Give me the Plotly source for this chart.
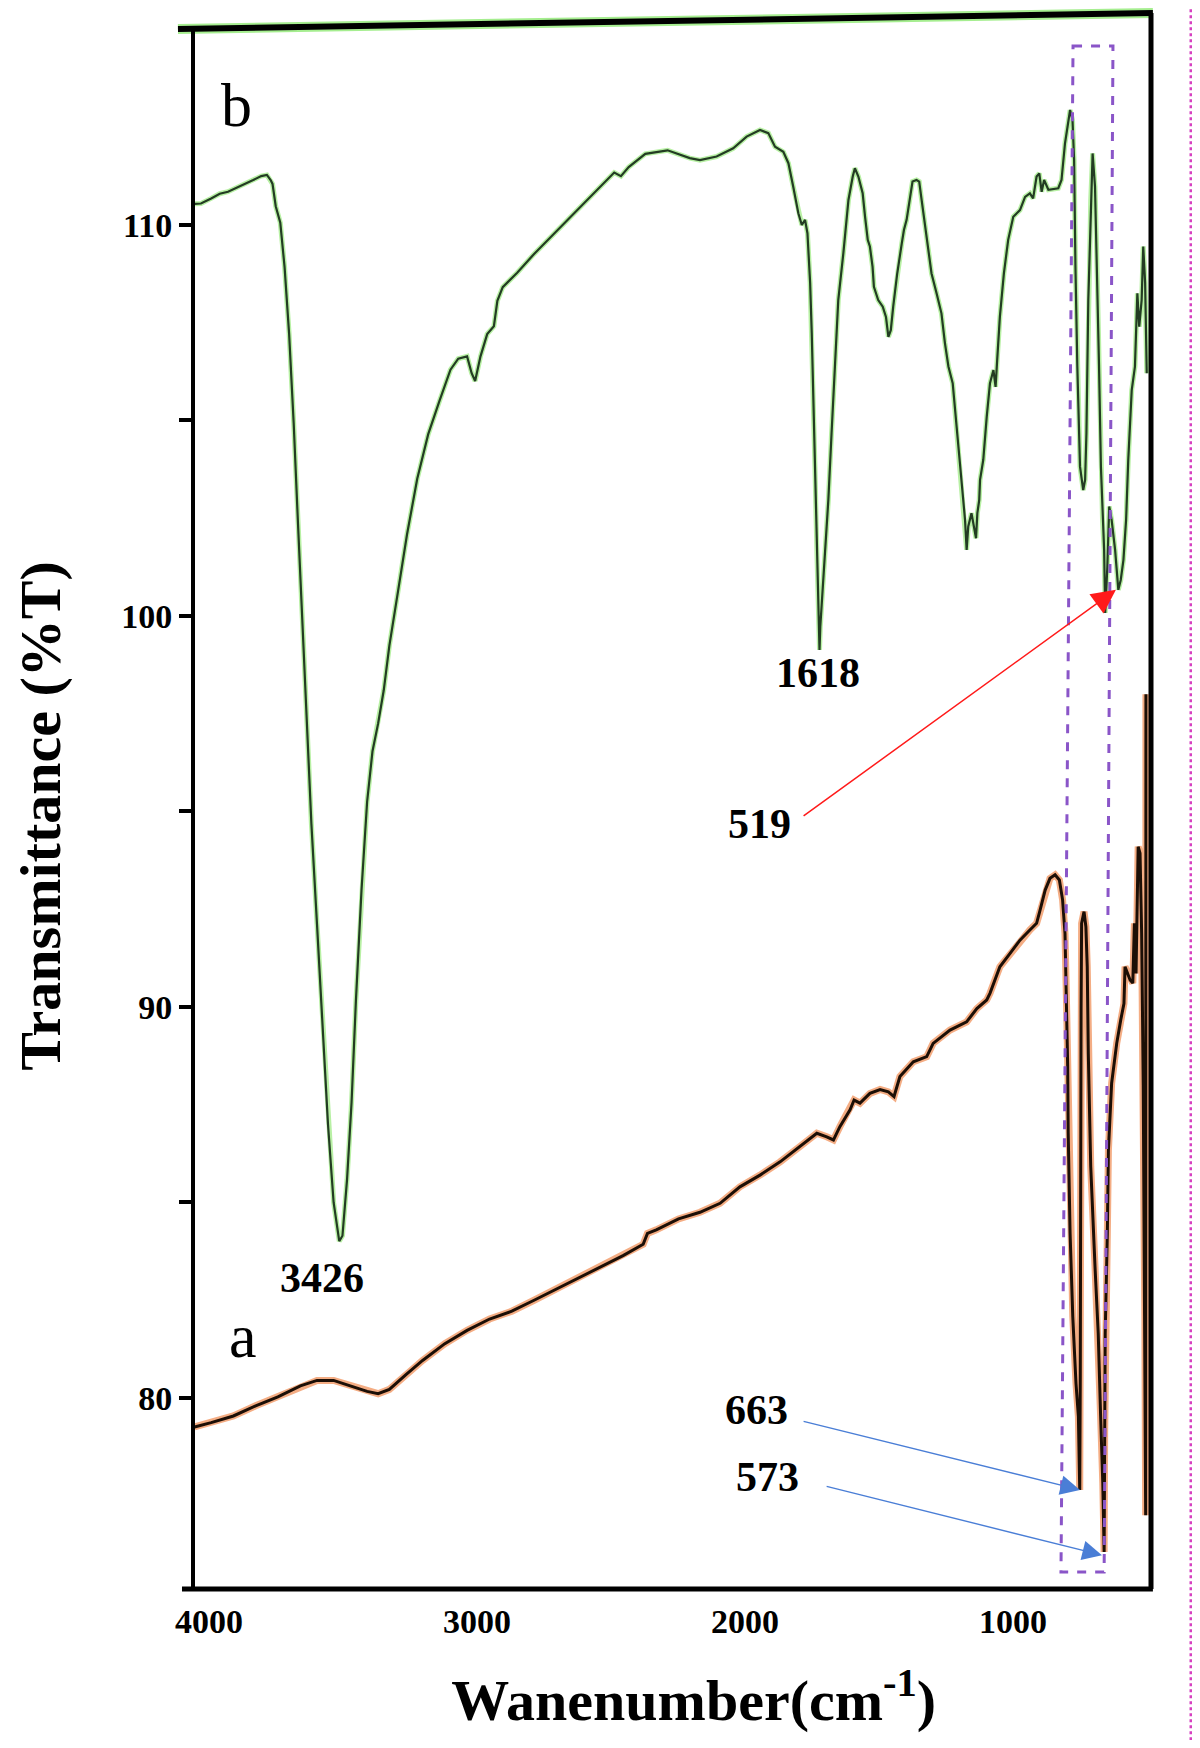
import plotly.graph_objects as go

# ---------------- data ----------------
wn_b = [4054, 4030, 3992, 3960, 3929, 3900, 3867, 3835, 3805, 3784, 3770, 3763, 3751, 3734, 3718,
        3701, 3684, 3668, 3651, 3635, 3618, 3597, 3576, 3556, 3535, 3514, 3502, 3485, 3468, 3452,
        3431, 3410, 3390, 3369, 3348, 3327, 3294, 3261, 3223, 3182, 3140, 3099, 3070, 3037, 3020,
        3007, 2987, 2962, 2937, 2924, 2904, 2850, 2787, 2704, 2621, 2538, 2488, 2463, 2434, 2372,
        2289, 2206, 2168, 2106, 2044, 1994, 1944, 1913, 1888, 1857, 1838, 1820, 1801, 1788, 1776,
        1767, 1757, 1751, 1745, 1739, 1732, 1726, 1722, 1719, 1708, 1698, 1689, 1677, 1664, 1652,
        1633, 1614, 1598, 1590, 1577, 1561, 1552, 1542, 1534, 1524, 1519, 1503, 1486, 1474, 1465,
        1456, 1447, 1432, 1415, 1407, 1397, 1382, 1375, 1360, 1350, 1341, 1325, 1304, 1285, 1267,
        1254, 1241, 1225, 1216, 1204, 1191, 1179, 1173, 1167, 1155, 1146, 1138, 1133, 1126, 1123,
        1111, 1098, 1086, 1073, 1065, 1059, 1049, 1034, 1018, 999, 974, 955, 937, 925, 912,
        902, 893, 884, 868, 831, 819, 806, 787, 778, 772, 767, 760, 750, 738, 731,
        726, 719, 710, 703, 694, 688, 679, 672, 666, 660, 656, 648, 641, 632, 619,
        607, 598, 588, 578, 570, 557, 545, 536, 529, 520, 514, 507, 501]
t_b = [110.54, 110.55, 110.68, 110.80, 110.85, 110.95, 111.05, 111.15, 111.25, 111.28, 111.15, 111.05, 110.48, 110.06, 108.92,
       107.21, 104.93, 102.37, 99.81, 97.25, 94.69, 92.12, 89.56, 87.00, 85.00, 84.01, 84.15, 85.58, 87.57, 90.13,
       92.98, 95.25, 96.54, 97.25, 98.10, 99.24, 100.66, 102.09, 103.51, 104.65, 105.50, 106.30, 106.58, 106.64, 106.21,
       106.01, 106.64, 107.21, 107.41, 108.06, 108.41, 108.78, 109.26, 109.83, 110.40, 110.97, 111.34, 111.25, 111.48, 111.82,
       111.91, 111.71, 111.66, 111.75, 111.96, 112.26, 112.43, 112.35, 112.00, 111.87, 111.58, 110.98, 110.30, 110.00, 110.13,
       109.79, 108.52, 107.24, 105.52, 103.81, 101.69, 99.98, 99.13, 99.73, 100.84, 102.12, 102.97, 104.68, 106.38, 108.08,
       109.28, 110.64, 111.24, 111.45, 111.24, 110.81, 110.21, 109.62, 109.45, 108.93, 108.42, 108.08, 107.91, 107.65, 107.14,
       107.31, 107.91, 108.76, 109.53, 109.87, 110.13, 110.81, 111.11, 111.15, 111.11, 110.64, 109.79, 108.76, 108.25, 107.74,
       106.98, 106.38, 105.95, 105.27, 104.25, 103.40, 102.46, 101.69, 102.29, 102.63, 102.29, 101.99, 102.63, 102.97, 103.48,
       103.99, 105.10, 105.95, 106.29, 105.86, 106.55, 107.65, 108.76, 109.62, 110.21, 110.38, 110.72, 110.81, 110.68, 111.24,
       111.32, 110.85, 111.15, 110.90, 110.94, 111.15, 112.09, 112.94, 112.69, 111.66, 108.93, 106.38, 103.82, 103.22, 103.48,
       104.68, 108.08, 110.64, 111.83, 110.98, 109.36, 106.38, 103.82, 102.46, 101.69, 100.08, 101.26, 102.80, 102.46, 101.69,
       100.67, 100.92, 101.43, 102.46, 103.99, 105.78, 106.38, 108.25, 107.40, 108.08, 109.45, 108.52, 106.21]

wn_a = [4054, 3992, 3909, 3826, 3743, 3659, 3597, 3535, 3473, 3410, 3369, 3327, 3265, 3203, 3120,
        3037, 2953, 2870, 2787, 2704, 2621, 2538, 2455, 2380, 2364, 2331, 2248, 2168, 2093, 2019,
        1944, 1869, 1795, 1732, 1695, 1670, 1646, 1608, 1593, 1571, 1534, 1496, 1465, 1444, 1422,
        1372, 1322, 1298, 1235, 1173, 1135, 1098, 1086, 1049, 1011, 974, 937, 912, 899, 880,
        862, 843, 827, 815, 806, 800, 796, 794, 787, 777, 765, 756, 751, 749, 748,
        746, 744, 735, 728, 723, 719, 710, 694, 682, 673, 665, 660, 658, 656, 648,
        644, 632, 613, 598, 586, 582, 573, 563, 553, 547, 541, 533, 526, 520, 514,
        508, 505, 504]
t_a = [79.26, 79.37, 79.54, 79.80, 80.03, 80.31, 80.45, 80.45, 80.31, 80.17, 80.11, 80.22, 80.60, 80.96, 81.39,
       81.73, 82.02, 82.22, 82.50, 82.79, 83.07, 83.36, 83.64, 83.93, 84.21, 84.30, 84.58, 84.75, 84.98, 85.40,
       85.70, 86.04, 86.43, 86.77, 86.68, 86.60, 86.94, 87.37, 87.62, 87.54, 87.79, 87.89, 87.83, 87.71, 88.22,
       88.60, 88.73, 89.07, 89.41, 89.62, 89.96, 90.18, 90.35, 91.03, 91.37, 91.71, 91.97, 92.14, 92.48, 92.99,
       93.29, 93.38, 93.25, 92.74, 91.88, 90.00, 88.50, 86.77, 84.21, 82.08, 80.37, 79.52, 77.65, 80.50, 86.00,
       90.00, 92.14, 92.44, 92.05, 91.03, 88.80, 85.92, 83.36, 81.65, 79.52, 77.82, 76.06, 79.10, 81.65, 84.21,
       86.34, 88.05, 89.07, 89.67, 90.09, 91.03, 90.86, 90.69, 90.61, 92.14, 90.86, 94.10, 93.93, 91.88, 88.00,
       82.00, 77.00, 98.00]

x_ticks = [4000, 3000, 2000, 1000]
x_tick_text = ["4000", "3000", "2000", "1000"]
y_ticks = [80, 90, 100, 110]
y_tick_text = ["80", "90", "100", "110"]
y_minor_ticks = [85, 95, 105]

peak_labels = ["3426", "1618", "519", "663", "573"]
peak_label_wn = [3578, 1727, 1946, 1957, 1916]
peak_label_t = [83.07, 98.54, 94.68, 79.69, 77.98]

X_RANGE = [4059.7, 485.1]
Y_RANGE = [75.115, 115.396]

SERIF = "Liberation Serif, Times New Roman, serif"

fig = go.Figure()

# halos
fig.add_trace(go.Scatter(x=wn_a, y=t_a, mode="lines", line=dict(color="#f4ad84", width=7),
                         hoverinfo="skip", showlegend=False))
fig.add_trace(go.Scatter(x=wn_b, y=t_b, mode="lines", line=dict(color="#b8f0a4", width=5),
                         hoverinfo="skip", showlegend=False))
# curves
fig.add_trace(go.Scatter(x=wn_a, y=t_a, mode="lines", name="a",
                         line=dict(color="#1c0f06", width=3), showlegend=False))
fig.add_trace(go.Scatter(x=wn_b, y=t_b, mode="lines", name="b",
                         line=dict(color="#233c23", width=2.2), showlegend=False))

annotations = []
for txt, xv, yv in zip(peak_labels, peak_label_wn, peak_label_t):
    annotations.append(dict(x=xv, y=yv, xref="x", yref="y", text=txt, showarrow=False,
                            font=dict(family=SERIF, size=42, color="black", weight="bold")))
annotations.append(dict(x=3899, y=113.07, xref="x", yref="y", text="b", showarrow=False,
                        font=dict(family=SERIF, size=62, color="black")))
annotations.append(dict(x=3873, y=81.59, xref="x", yref="y", text="a", showarrow=False,
                        font=dict(family=SERIF, size=62, color="black")))
# arrows
annotations.append(dict(x=616, y=100.67, ax=1787, ay=94.86, xref="x", yref="y", axref="x", ayref="y",
                        text="", showarrow=True, arrowhead=2, arrowsize=3.2, arrowwidth=1.5,
                        arrowcolor="#ff1a1a", standoff=0))
annotations.append(dict(x=750, y=77.65, ax=1787, ay=79.41, xref="x", yref="y", axref="x", ayref="y",
                        text="", showarrow=True, arrowhead=2, arrowsize=2.8, arrowwidth=1.4,
                        arrowcolor="#4a7ed6", standoff=0))
annotations.append(dict(x=668, y=75.98, ax=1701, ay=77.75, xref="x", yref="y", axref="x", ayref="y",
                        text="", showarrow=True, arrowhead=2, arrowsize=2.8, arrowwidth=1.4,
                        arrowcolor="#4a7ed6", standoff=0))

shapes = [
    # dashed highlight box
    dict(type="path", xref="x", yref="y",
         path="M 776,114.58 L 627,114.58 L 660,75.55 L 821,75.55 Z",
         line=dict(color="#8a55c8", width=3, dash="dash")),
    # frame: top (slanted) with green halo
    dict(type="line", xref="paper", yref="paper", x0=-0.0157, y0=0.9905, x1=1.002, y1=1.0006,
         line=dict(color="#a6ee90", width=10)),
    dict(type="line", xref="paper", yref="paper", x0=-0.0157, y0=0.9905, x1=1.002, y1=1.0006,
         line=dict(color="black", width=6)),
    # left
    dict(type="line", xref="paper", yref="paper", x0=0, y0=0, x1=0, y1=0.9905,
         line=dict(color="black", width=4)),
    # right
    dict(type="line", xref="paper", yref="paper", x0=1.0, y0=0, x1=1.0, y1=1.0006,
         line=dict(color="black", width=5)),
    # bottom
    dict(type="line", xref="paper", yref="paper", x0=-0.0115, y0=0, x1=1.002, y1=0,
         line=dict(color="black", width=5)),
    # pink dotted line at right edge
    dict(type="line", xref="paper", yref="paper", x0=1.0415, y0=-0.096, x1=1.0415, y1=1.004,
         line=dict(color="#d63fc0", width=2.5, dash="dot")),
]

# The page body has an 8px margin, so the figure is sized/margined to land on the
# reference pixel positions without creating scrollbars.
fig.update_layout(
    width=1184, height=1732,
    margin=dict(l=185, r=41, t=6, b=151, autoexpand=False),
    paper_bgcolor="white", plot_bgcolor="white",
    annotations=annotations, shapes=shapes,
    xaxis=dict(range=X_RANGE, tickvals=x_ticks, ticktext=x_tick_text, ticks="",
               showgrid=False, zeroline=False, showline=False, ticklabelstandoff=9,
               tickfont=dict(family=SERIF, size=34, color="black", weight="bold"),
               title=dict(text="&nbsp;&nbsp;&nbsp;Wanenumber(cm<sup>-1</sup>)", standoff=40,
                          font=dict(family=SERIF, size=58, color="black", weight="bold"))),
    yaxis=dict(range=Y_RANGE, tickvals=y_ticks, ticktext=y_tick_text, ticks="outside",
               ticklen=13, tickwidth=4, tickcolor="black",
               minor=dict(tickvals=y_minor_ticks, ticks="outside", ticklen=13, tickwidth=4,
                          tickcolor="black", showgrid=False),
               showgrid=False, zeroline=False, showline=False, ticklabelstandoff=0,
               tickfont=dict(family=SERIF, size=34, color="black", weight="bold"),
               title=dict(text="Transmittance (%T)&nbsp;&nbsp;", standoff=44,
                          font=dict(family=SERIF, size=58, color="black", weight="bold"))),
)

fig.write_html("out.html")
